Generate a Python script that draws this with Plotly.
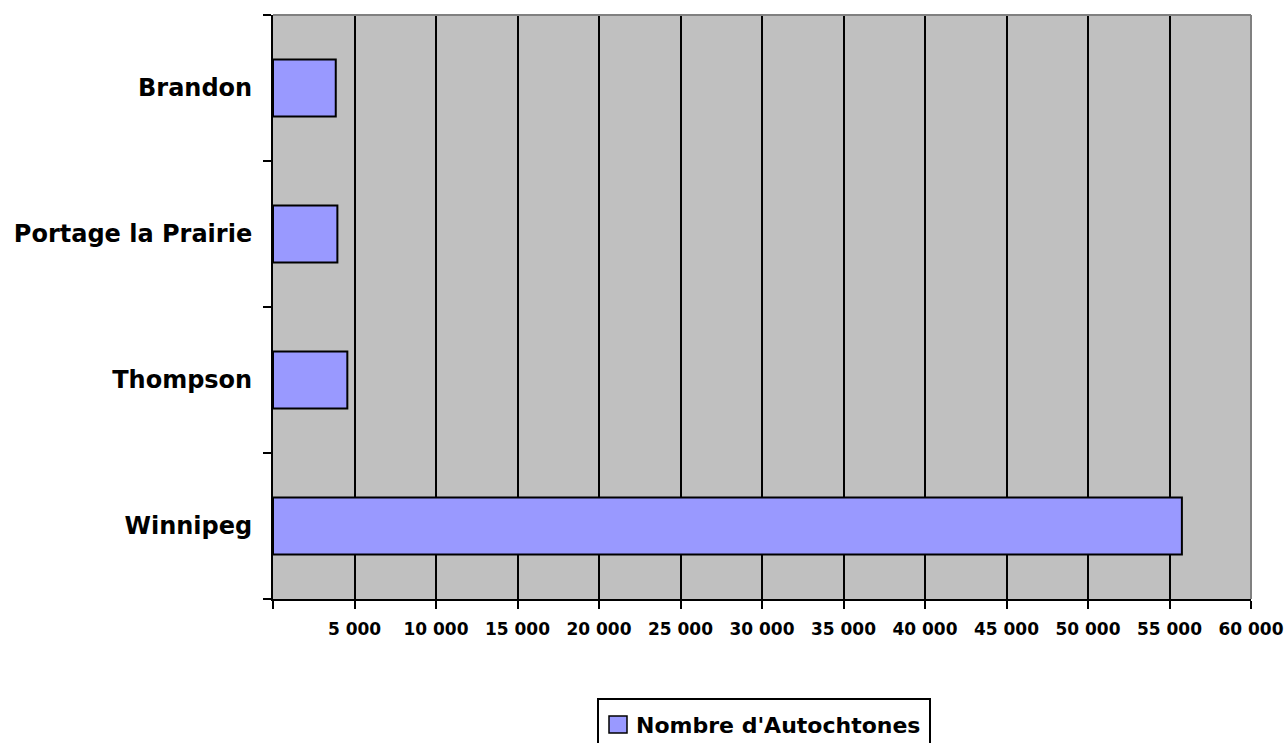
import plotly.graph_objects as go

# Aboriginal population by Manitoba city (bottom to top on the chart)
cities = ["Winnipeg", "Thompson", "Portage la Prairie", "Brandon"]
population = [55760, 4560, 3950, 3850]

tick_values = [0, 5000, 10000, 15000, 20000, 25000, 30000, 35000, 40000, 45000, 50000, 55000, 60000]
tick_labels = ["", "5 000", "10 000", "15 000", "20 000", "25 000", "30 000",
               "35 000", "40 000", "45 000", "50 000", "55 000", "60 000"]

series_name = "Nombre d'Autochtones"

W, H = 1288, 743
L, R, T, B = 273, 1251, 15, 599  # plot area in pixels

FONT = "DejaVu Sans, Liberation Sans, Arial, sans-serif"


def px_x(x):
    return (x - L) / (R - L)


def px_y(y):
    return (B - y) / (B - T)


fig = go.Figure(
    go.Bar(
        x=population,
        y=cities,
        orientation="h",
        name=series_name,
        marker=dict(color="#9999FF", line=dict(color="black", width=2)),
        showlegend=False,
    )
)

fig.update_layout(
    width=W,
    height=H,
    margin=dict(l=L, r=W - R, t=T, b=H - B, pad=0, autoexpand=False),
    paper_bgcolor="white",
    plot_bgcolor="#C0C0C0",
    bargap=0.61,
    font=dict(family=FONT, color="black", weight="bold"),
    xaxis=dict(
        range=[0, 60000],
        automargin=False,
        tickmode="array",
        tickvals=tick_values,
        ticktext=tick_labels,
        ticks="outside",
        ticklen=8,
        tickwidth=2,
        tickcolor="black",
        ticklabelstandoff=6,
        tickfont=dict(size=17, family=FONT, weight="bold"),
        showgrid=True,
        gridcolor="black",
        gridwidth=2,
        showline=True,
        linecolor="black",
        linewidth=2,
        zeroline=False,
    ),
    yaxis=dict(
        type="category",
        automargin=False,
        categoryorder="array",
        categoryarray=cities,
        ticks="outside",
        tickson="boundaries",
        ticklen=8,
        tickwidth=2,
        tickcolor="black",
        ticklabelstandoff=14,
        tickfont=dict(size=24, family=FONT, weight="bold"),
        showgrid=False,
        showline=True,
        linecolor="black",
        linewidth=2,
        zeroline=False,
    ),
    shapes=[
        # grey frame on the top and right of the plot area
        dict(type="line", xref="paper", yref="paper", x0=0, x1=1, y0=1, y1=1,
             line=dict(color="#808080", width=2), layer="above"),
        dict(type="line", xref="paper", yref="paper", x0=1, x1=1, y0=0, y1=1,
             line=dict(color="#808080", width=2), layer="above"),
        # legend box
        dict(type="rect", xref="paper", yref="paper",
             x0=px_x(598), x1=px_x(930), y0=px_y(770), y1=px_y(699),
             line=dict(color="black", width=2), fillcolor="white"),
        # legend swatch
        dict(type="rect", xref="paper", yref="paper",
             x0=px_x(609), x1=px_x(627), y0=px_y(733), y1=px_y(716),
             line=dict(color="black", width=1.5), fillcolor="#9999FF"),
    ],
    annotations=[
        dict(text=series_name, xref="paper", yref="paper",
             x=px_x(634), y=px_y(725), xanchor="left", yanchor="middle",
             showarrow=False, font=dict(size=22, family=FONT, weight="bold", color="black")),
    ],
)

fig.write_html("out.html")
